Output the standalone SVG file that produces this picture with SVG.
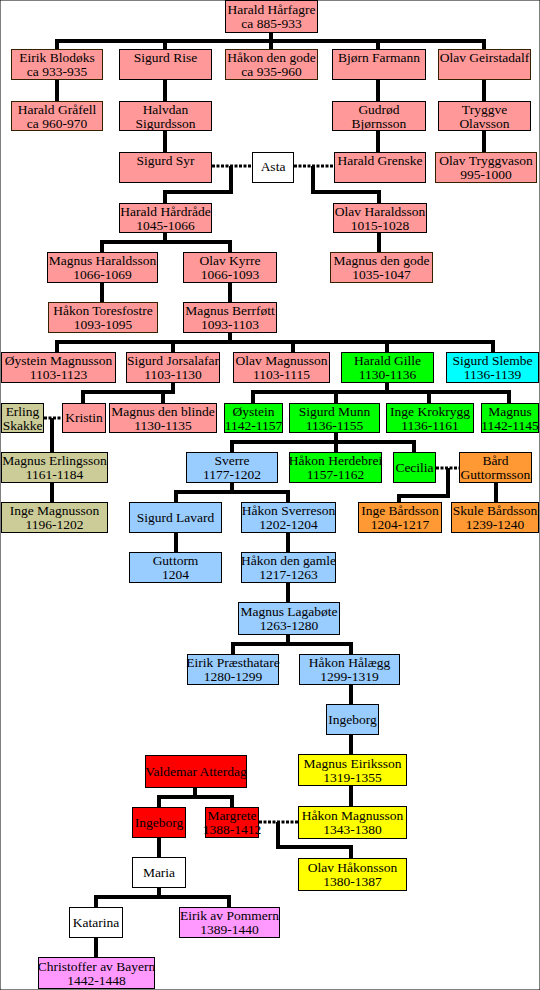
<svg xmlns="http://www.w3.org/2000/svg" width="540" height="990" viewBox="0 0 540 990">
<style>
rect{stroke:#000;stroke-width:1}
rect.d{stroke:#332200}
.p{fill:#FF9999}.g{fill:#00FF00}.cy{fill:#00FFFF}.k{fill:#CCCC99}.b{fill:#99CCFF}.o{fill:#FF9933}.y{fill:#FFFF00}.r{fill:#FF0000}.m{fill:#FF99FF}.w{fill:#FFFFFF}
text{font-family:"Liberation Serif","Times New Roman",serif;font-size:13.5px;text-anchor:middle;fill:#000}
.c{fill:none;stroke:#000;stroke-width:4}
.mr{fill:none;stroke:#000;stroke-width:3;stroke-dasharray:3 1.5}
</style>
<rect width="540" height="990" fill="#fff" stroke="none"/>
<g id="connectors">
<path class="c" d="M271 33V49M57 49V41H484V49M165 41V49M378 41V49"/>
<path class="c" d="M57 80V101M165 80V101M165 131V152M378 80V101M378 131V152M484 80V101M484 131V152"/>
<path class="mr" d="M212 166H252M294 166H334"/>
<path class="c" d="M231 166V192H165V203M313 166V192H379V203"/>
<path class="c" d="M165 233V242M102 252V242H230V252M102 283V302M230 283V302M379 233V252"/>
<path class="c" d="M230 333V342M57 352V342H493V352M173 342V352M293 342V352M387 342V352"/>
<path class="c" d="M173 383V392H83V403M163 392V403"/>
<path class="c" d="M387 383V392M253 403V392H509V403M336 392V403"/>
<path class="c" d="M429 392V403"/>
<path class="mr" d="M44 418H62"/>
<path class="c" d="M52 418V452M52 483V502"/>
<path class="c" d="M336 433V452M232 452V442H414V452"/>
<path class="mr" d="M436 468H459"/>
<path class="c" d="M448 468V496H399V502M496 483V502"/>
<path class="c" d="M232 483V492M176 502V492H288V502M176 533V552M288 533V552M288 583V602"/>
<path class="c" d="M288 635V644M233 654V644H351V654M351 685V704M351 735V754M351 786V806"/>
<path class="mr" d="M259 822H298"/>
<path class="c" d="M278 822V847H351V858"/>
<path class="c" d="M195 788V797M159 807V797H232V807M159 838V857M159 888V897M96 907V897H229V907M96 938V957"/>
</g>
<g id="hh"><rect class="p" x="225.5" y="0.5" width="92" height="32"/><text x="271.5" y="13.5">Harald Hårfagre</text><text x="271.5" y="27.5">ca 885-933</text></g>
<g id="eb"><rect class="p d" x="11.5" y="49.5" width="91" height="30"/><text x="57" y="62">Eirik Blodøks</text><text x="57" y="76">ca 933-935</text></g>
<g id="sr"><rect class="p" x="119.5" y="49.5" width="92" height="30"/><text x="165.5" y="62">Sigurd Rise</text></g>
<g id="hg"><rect class="p d" x="225.5" y="49.5" width="92" height="30"/><text x="271.5" y="62">Håkon den gode</text><text x="271.5" y="76">ca 935-960</text></g>
<g id="bf"><rect class="p" x="332.5" y="49.5" width="93" height="30"/><text x="379" y="62">Bjørn Farmann</text></g>
<g id="og"><rect class="p d" x="438.5" y="49.5" width="92" height="30"/><text x="484.5" y="62">Olav Geirstadalf</text></g>
<g id="hgr"><rect class="p d" x="11.5" y="101.5" width="91" height="29"/><text x="57" y="113.5">Harald Gråfell</text><text x="57" y="127.5">ca 960-970</text></g>
<g id="hs"><rect class="p" x="119.5" y="101.5" width="92" height="29"/><text x="165.5" y="113.5">Halvdan</text><text x="165.5" y="127.5">Sigurdsson</text></g>
<g id="gb"><rect class="p" x="332.5" y="101.5" width="93" height="29"/><text x="379" y="113.5">Gudrød</text><text x="379" y="127.5">Bjørnsson</text></g>
<g id="to"><rect class="p" x="438.5" y="101.5" width="92" height="29"/><text x="484.5" y="113.5">Tryggve</text><text x="484.5" y="127.5">Olavsson</text></g>
<g id="ss"><rect class="p" x="119.5" y="152.5" width="92" height="30"/><text x="165.5" y="165">Sigurd Syr</text></g>
<g id="asta"><rect class="w" x="252.5" y="152.5" width="41" height="30"/><text x="273" y="171">Asta</text></g>
<g id="hgre"><rect class="p" x="334.5" y="152.5" width="91" height="30"/><text x="380" y="165">Harald Grenske</text></g>
<g id="ot"><rect class="p d" x="435.5" y="152.5" width="101" height="30"/><text x="486" y="165">Olav Tryggvason</text><text x="486" y="179">995-1000</text></g>
<g id="hhd"><rect class="p" x="119.5" y="203.5" width="92" height="29"/><text x="165.5" y="215.5">Harald Hårdråde</text><text x="165.5" y="229.5">1045-1066</text></g>
<g id="oh"><rect class="p" x="333.5" y="203.5" width="93" height="29"/><text x="380" y="215.5">Olav Haraldsson</text><text x="380" y="229.5">1015-1028</text></g>
<g id="mh"><rect class="p" x="47.5" y="252.5" width="110" height="30"/><text x="102.5" y="265">Magnus Haraldsson</text><text x="102.5" y="279">1066-1069</text></g>
<g id="ok"><rect class="p" x="183.5" y="252.5" width="93" height="30"/><text x="230" y="265">Olav Kyrre</text><text x="230" y="279">1066-1093</text></g>
<g id="mg"><rect class="p d" x="330.5" y="252.5" width="102" height="30"/><text x="381.5" y="265">Magnus den gode</text><text x="381.5" y="279">1035-1047</text></g>
<g id="ht"><rect class="p d" x="48.5" y="302.5" width="109" height="30"/><text x="103" y="315">Håkon Toresfostre</text><text x="103" y="329">1093-1095</text></g>
<g id="mb"><rect class="p" x="183.5" y="302.5" width="93" height="30"/><text x="230" y="315">Magnus Berrføtt</text><text x="230" y="329">1093-1103</text></g>
<g id="om"><rect class="p" x="1.5" y="352.5" width="114" height="30"/><text x="58.5" y="365">Øystein Magnusson</text><text x="58.5" y="379">1103-1123</text></g>
<g id="sj"><rect class="p" x="126.5" y="352.5" width="93" height="30"/><text x="173" y="365">Sigurd Jorsalafar</text><text x="173" y="379">1103-1130</text></g>
<g id="olm"><rect class="p" x="233.5" y="352.5" width="96" height="30"/><text x="281.5" y="365">Olav Magnusson</text><text x="281.5" y="379">1103-1115</text></g>
<g id="hgi"><rect class="g" x="341.5" y="352.5" width="92" height="30"/><text x="387.5" y="365">Harald Gille</text><text x="387.5" y="379">1130-1136</text></g>
<g id="ssl"><rect class="cy" x="446.5" y="352.5" width="92" height="30"/><text x="492.5" y="365">Sigurd Slembe</text><text x="492.5" y="379">1136-1139</text></g>
<g id="es"><rect class="k" x="1.5" y="403.5" width="42" height="29"/><text x="22.5" y="415.5">Erling</text><text x="22.5" y="429.5">Skakke</text></g>
<g id="kr"><rect class="p" x="62.5" y="403.5" width="43" height="29"/><text x="84" y="422">Kristin</text></g>
<g id="mdb"><rect class="p" x="109.5" y="403.5" width="107" height="29"/><text x="163" y="415.5">Magnus den blinde</text><text x="163" y="429.5">1130-1135</text></g>
<g id="oy"><rect class="g" x="224.5" y="403.5" width="58" height="29"/><text x="253.5" y="415.5">Øystein</text><text x="253.5" y="429.5">1142-1157</text></g>
<g id="sm"><rect class="g" x="289.5" y="403.5" width="90" height="29"/><text x="334.5" y="415.5">Sigurd Munn</text><text x="334.5" y="429.5">1136-1155</text></g>
<g id="ik"><rect class="g" x="386.5" y="403.5" width="87" height="29"/><text x="430" y="415.5">Inge Krokrygg</text><text x="430" y="429.5">1136-1161</text></g>
<g id="mag"><rect class="g" x="481.5" y="403.5" width="57" height="29"/><text x="510" y="415.5">Magnus</text><text x="510" y="429.5">1142-1145</text></g>
<g id="me"><rect class="k" x="1.5" y="452.5" width="106" height="30"/><text x="54.5" y="465">Magnus Erlingsson</text><text x="54.5" y="479">1161-1184</text></g>
<g id="sv"><rect class="b" x="186.5" y="452.5" width="91" height="30"/><text x="232" y="465">Sverre</text><text x="232" y="479">1177-1202</text></g>
<g id="hhe"><rect class="g" x="289.5" y="452.5" width="92" height="30"/><text x="335.5" y="465">Håkon Herdebrei</text><text x="335.5" y="479">1157-1162</text></g>
<g id="ce"><rect class="g" x="393.5" y="452.5" width="42" height="30"/><text x="414.5" y="471.5">Cecilia</text></g>
<g id="bg"><rect class="o" x="459.5" y="452.5" width="72" height="30"/><text x="495.5" y="465">Bård</text><text x="495.5" y="479">Guttormsson</text></g>
<g id="im"><rect class="k" x="1.5" y="502.5" width="106" height="30"/><text x="54.5" y="515">Inge Magnusson</text><text x="54.5" y="529">1196-1202</text></g>
<g id="sl"><rect class="b" x="129.5" y="502.5" width="92" height="30"/><text x="175.5" y="521.5">Sigurd Lavard</text></g>
<g id="hsv"><rect class="b" x="241.5" y="502.5" width="94" height="30"/><text x="288.5" y="515">Håkon Sverreson</text><text x="288.5" y="529">1202-1204</text></g>
<g id="ib"><rect class="o" x="358.5" y="502.5" width="83" height="30"/><text x="400" y="515">Inge Bårdsson</text><text x="400" y="529">1204-1217</text></g>
<g id="sb"><rect class="o" x="451.5" y="502.5" width="87" height="30"/><text x="495" y="515">Skule Bårdsson</text><text x="495" y="529">1239-1240</text></g>
<g id="gu"><rect class="b" x="129.5" y="552.5" width="92" height="30"/><text x="175.5" y="565">Guttorm</text><text x="175.5" y="579">1204</text></g>
<g id="hdg"><rect class="b" x="241.5" y="552.5" width="94" height="30"/><text x="288.5" y="565">Håkon den gamle</text><text x="288.5" y="579">1217-1263</text></g>
<g id="ml"><rect class="b" x="238.5" y="602.5" width="101" height="32"/><text x="289" y="616">Magnus Lagabøte</text><text x="289" y="630">1263-1280</text></g>
<g id="ep"><rect class="b" x="187.5" y="654.5" width="91" height="30"/><text x="233" y="667">Eirik Præsthatare</text><text x="233" y="681">1280-1299</text></g>
<g id="hha"><rect class="b" x="299.5" y="654.5" width="100" height="30"/><text x="349.5" y="667">Håkon Hålægg</text><text x="349.5" y="681">1299-1319</text></g>
<g id="ing"><rect class="b" x="326.5" y="704.5" width="52" height="30"/><text x="352.5" y="723.5">Ingeborg</text></g>
<g id="mei"><rect class="y" x="298.5" y="754.5" width="108" height="31"/><text x="352.5" y="767.5">Magnus Eiriksson</text><text x="352.5" y="781.5">1319-1355</text></g>
<g id="va"><rect class="r" x="145.5" y="755.5" width="101" height="32"/><text x="196" y="775.5">Valdemar Atterdag</text></g>
<g id="ingr"><rect class="r" x="132.5" y="807.5" width="53" height="30"/><text x="159" y="826.5">Ingeborg</text></g>
<g id="mar"><rect class="r" x="205.5" y="807.5" width="53" height="30"/><text x="232" y="820">Margrete</text><text x="232" y="834">1388-1412</text></g>
<g id="hma"><rect class="y" x="298.5" y="806.5" width="108" height="32"/><text x="352.5" y="820">Håkon Magnusson</text><text x="352.5" y="834">1343-1380</text></g>
<g id="maria"><rect class="w" x="132.5" y="857.5" width="53" height="30"/><text x="159" y="876.5">Maria</text></g>
<g id="oha"><rect class="y" x="298.5" y="858.5" width="108" height="32"/><text x="352.5" y="872">Olav Håkonsson</text><text x="352.5" y="886">1380-1387</text></g>
<g id="ka"><rect class="w" x="69.5" y="907.5" width="53" height="30"/><text x="96" y="926.5">Katarina</text></g>
<g id="eap"><rect class="m" x="179.5" y="907.5" width="100" height="30"/><text x="229.5" y="920">Eirik av Pommern</text><text x="229.5" y="934">1389-1440</text></g>
<g id="cab"><rect class="m" x="38.5" y="957.5" width="116" height="31"/><text x="96.5" y="970.5">Christoffer av Bayern</text><text x="96.5" y="984.5">1442-1448</text></g>
</svg>
